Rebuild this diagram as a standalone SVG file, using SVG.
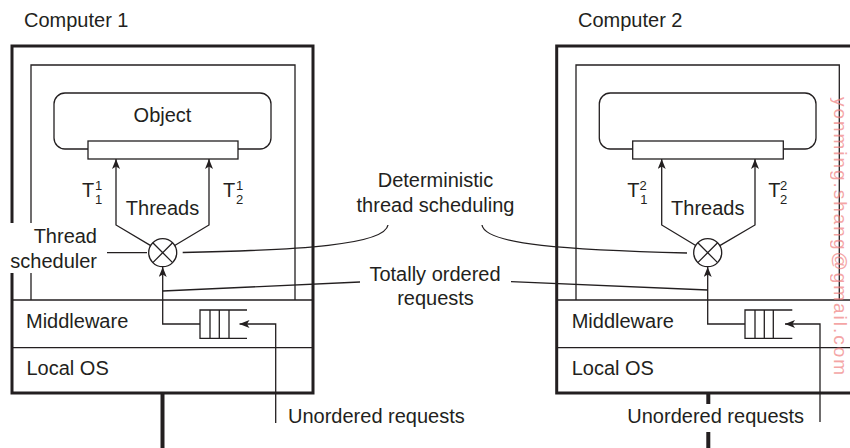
<svg xmlns="http://www.w3.org/2000/svg" width="850" height="448" viewBox="0 0 850 448">
<style>
text{font-family:"Liberation Sans",Arial,sans-serif;font-size:20px;fill:#231f20}
.s{font-size:13px}
.c{text-anchor:middle}
.e{text-anchor:end}
.thick{fill:none;stroke:#231f20;stroke-width:3}
.thin{fill:none;stroke:#231f20;stroke-width:1.3}
.box{fill:#fff;stroke:#231f20;stroke-width:1.3}
.net{fill:none;stroke:#231f20;stroke-width:4}
.wm{font-size:19px;fill:#f08080;opacity:0.7}
</style>
<defs>
<marker id="ah" viewBox="0 0 10 8" refX="10" refY="4" markerWidth="10" markerHeight="8" markerUnits="userSpaceOnUse" orient="auto">
<path d="M0,0 L10,4 L0,8 L2.5,4 z" fill="#231f20"/>
</marker>
</defs>
<rect width="850" height="448" fill="#fff"/>

<g id="computer1">
<text x="24" y="27">Computer 1</text>
<path class="thick" d="M12,223 V46 H313 V393 H12 V273"/>
<path class="thin" d="M31,223 V65 H295 V300 M31,273 V300"/>
<path class="thin" d="M12,300 H313 M12,347.7 H313"/>
<text x="26" y="328">Middleware</text>
<text x="26.5" y="375">Local OS</text>
<g id="object1">
<rect class="box" x="54" y="93" width="217" height="56" rx="11"/>
<rect class="box" x="88" y="141" width="150" height="18"/>
<text class="c" x="162.5" y="122">Object</text>
</g>
<g id="threads1">
<text x="82" y="197">T</text><text class="s" x="95" y="189.5">1</text><text class="s" x="95" y="204">1</text>
<text x="223" y="197">T</text><text class="s" x="236" y="189.5">1</text><text class="s" x="236" y="204">2</text>
<text class="c" x="162.5" y="215">Threads</text>
</g>
<g id="scheduler1">
<circle class="thin" cx="162.7" cy="252.7" r="14" fill="#fff"/>
<path class="thin" d="M152.8,242.8 L172.6,262.6 M172.6,242.8 L152.8,262.6"/>
<text class="e" x="97" y="243">Thread</text>
<text class="e" x="97" y="268">scheduler</text>
</g>
<g id="queue1">
<path class="thin" d="M247,310 H200 V338.3 H247 M210,310 V338.3 M219.3,310 V338.3 M229,310 V338.3"/>
</g>
<text x="288" y="423">Unordered requests</text>
<path class="net" d="M162.5,393 V448"/>
</g>

<g id="computer2">
<text x="578" y="27">Computer 2</text>
<path class="thick" d="M860,46 H556.7 V393 H860"/>
<path class="thin" d="M576,300 V65 H839.3 V300"/>
<path class="thin" d="M556.7,300 H855 M556.7,347.7 H855"/>
<text x="571.7" y="328">Middleware</text>
<text x="571.7" y="375">Local OS</text>
<g id="object2">
<rect class="box" x="599.3" y="93" width="216.7" height="56" rx="11"/>
<rect class="box" x="632.7" y="141" width="150.6" height="18"/>
</g>
<g id="threads2">
<text x="627.3" y="197">T</text><text class="s" x="639.5" y="189.5">2</text><text class="s" x="640.3" y="204">1</text>
<text x="768.3" y="197">T</text><text class="s" x="780" y="189.5">2</text><text class="s" x="780" y="204">2</text>
<text class="c" x="707.8" y="215">Threads</text>
</g>
<g id="scheduler2">
<circle class="thin" cx="707.7" cy="252.7" r="14" fill="#fff"/>
<path class="thin" d="M697.8,242.8 L717.6,262.6 M717.6,242.8 L697.8,262.6"/>
</g>
<g id="queue2">
<path class="thin" d="M792.3,310 H745 V338.3 H792.3 M755,310 V338.3 M764.3,310 V338.3 M773.3,310 V338.3"/>
</g>
<text x="627.3" y="423">Unordered requests</text>
<path class="net" d="M708.3,393 V404 M708.3,432 V448"/>
</g>

<g id="labels">
<text class="c" x="435.5" y="187">Deterministic</text>
<text class="c" x="435.5" y="212">thread scheduling</text>
<text class="c" x="435" y="281">Totally ordered</text>
<text class="c" x="435.5" y="305">requests</text>
</g>

<g id="connectors">
<path class="thin" d="M150.7,245.6 L116,225 V159" marker-end="url(#ah)"/>
<path class="thin" d="M174.7,245.5 L209,225 V159" marker-end="url(#ah)"/>
<path class="thin" d="M200,324 H162.7 V267" marker-end="url(#ah)"/>
<path class="thin" d="M275.7,423 V324 H239.5" marker-end="url(#ah)"/>
<path class="thin" d="M107,252.7 H147"/>
<path class="thin" d="M182.7,252.5 C300,250 385,245 388,225"/>
<path class="thin" d="M162.7,291 L360,282"/>
<path class="thin" d="M695.7,245.5 L661.7,225 V159" marker-end="url(#ah)"/>
<path class="thin" d="M719.8,245.6 L755,225 V159" marker-end="url(#ah)"/>
<path class="thin" d="M745,324 H707.7 V267" marker-end="url(#ah)"/>
<path class="thin" d="M820,422 V324 H785" marker-end="url(#ah)"/>
<path class="thin" d="M482,225 C485,245 570,250 687,253"/>
<path class="thin" d="M511,281.7 L707.7,290"/>
</g>

<text class="wm" transform="translate(834,97) rotate(90)" textLength="278" lengthAdjust="spacing">yonming.shang@gmail.com</text>
</svg>
